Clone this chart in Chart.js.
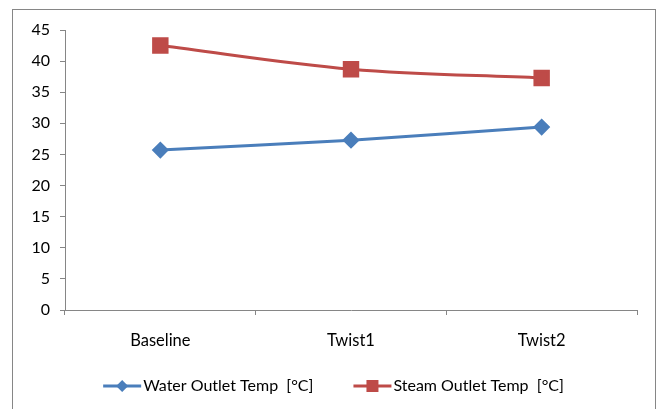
<!DOCTYPE html>
<html><head><meta charset="utf-8">
<script src="https://cdn.jsdelivr.net/npm/chart.js@4/dist/chart.umd.min.js"></script>
<style>html,body{margin:0;padding:0;background:#fff}#wrap{width:657px;height:409px;position:relative}</style>
</head><body><div id="wrap"><canvas id="c" width="657" height="409"></canvas></div>
<script>
const categories = ['Baseline', 'Twist1', 'Twist2'];
const waterOutlet = [25.7, 27.3, 29.4];
const steamOutlet = [42.5, 38.7, 37.3];
const yTicks = [0, 5, 10, 15, 20, 25, 30, 35, 40, 45];
const seriesNames = ['Water Outlet Temp  [°C]', 'Steam Outlet Temp  [°C]'];

const FONT = 'Lato, "Open Sans", sans-serif';
const BLUE = '#4a7ebb', RED = '#be4b48', AXIS = '#868686';

const frame = {
  id: 'frame',
  beforeDraw(chart) {
    const ctx = chart.ctx;
    ctx.save(); ctx.strokeStyle = AXIS; ctx.lineWidth = 1;
    ctx.strokeRect(12.5, 9.5, 643, 420);
    ctx.restore();
  }
};

// Legend drawn from the datasets (line + marker icon, then label)
const customLegend = {
  id: 'customLegend',
  afterDraw(chart) {
    const ctx = chart.ctx;
    const ds = chart.data.datasets;
    const iconW = 38, textGap = 2, itemGap = 40, cy = 386;
    ctx.save();
    ctx.font = '16px ' + FONT;
    const widths = ds.map(d => iconW + textGap + ctx.measureText(d.label).width);
    const total = widths.reduce((a, b) => a + b, 0) + itemGap * (ds.length - 1);
    let x = 333.5 - total / 2;
    ds.forEach((d, i) => {
      ctx.strokeStyle = d.borderColor; ctx.lineWidth = 3;
      ctx.beginPath(); ctx.moveTo(x, cy); ctx.lineTo(x + iconW, cy); ctx.stroke();
      ctx.fillStyle = d.backgroundColor;
      const mx = x + iconW / 2;
      ctx.beginPath();
      if (d.pointStyle === 'rectRot') {
        ctx.moveTo(mx - 6, cy); ctx.lineTo(mx, cy - 6); ctx.lineTo(mx + 6, cy); ctx.lineTo(mx, cy + 6); ctx.closePath();
      } else {
        ctx.rect(mx - 6, cy - 6, 12, 12);
      }
      ctx.fill();
      ctx.fillStyle = '#000'; ctx.textBaseline = 'middle'; ctx.textAlign = 'left';
      ctx.fillText(d.label, x + iconW + textGap, cy);
      x += widths[i] + itemGap;
    });
    ctx.restore();
  }
};

new Chart(document.getElementById('c'), {
  type: 'line',
  data: {
    labels: categories,
    datasets: [
      { label: seriesNames[0], data: waterOutlet, borderColor: BLUE, backgroundColor: BLUE,
        borderWidth: 3, pointStyle: 'rectRot', pointRadius: 6.5, pointHoverRadius: 6.5, tension: 0.2 },
      { label: seriesNames[1], data: steamOutlet, borderColor: RED, backgroundColor: RED,
        borderWidth: 3, pointStyle: 'rect', pointRadius: 9.5, pointHoverRadius: 9.5, tension: 0.35 }
    ]
  },
  options: {
    responsive: false, animation: false,
    layout: { padding: { left: 0, right: 20, top: 30, bottom: 0 } },
    plugins: {
      tooltip: { enabled: false },
      legend: { display: false }
    },
    scales: {
      x: {
        offset: true,
        grid: { offset: true, drawOnChartArea: false, tickLength: 5, color: AXIS },
        border: { color: AXIS },
        ticks: { color: '#000', padding: 16, font: { family: FONT, size: 16.5 } },
        afterFit: (s) => { s.height = 99; }
      },
      y: {
        min: 0, max: 45,
        afterBuildTicks: (s) => { s.ticks = yTicks.map(v => ({ value: v })); },
        grid: { drawOnChartArea: false, tickLength: 5, color: AXIS },
        border: { color: AXIS },
        ticks: { color: '#000', padding: 10, font: { family: FONT, size: 16 } },
        afterFit: (s) => { s.width = 65; }
      }
    }
  },
  plugins: [frame, customLegend]
});
</script></body></html>
